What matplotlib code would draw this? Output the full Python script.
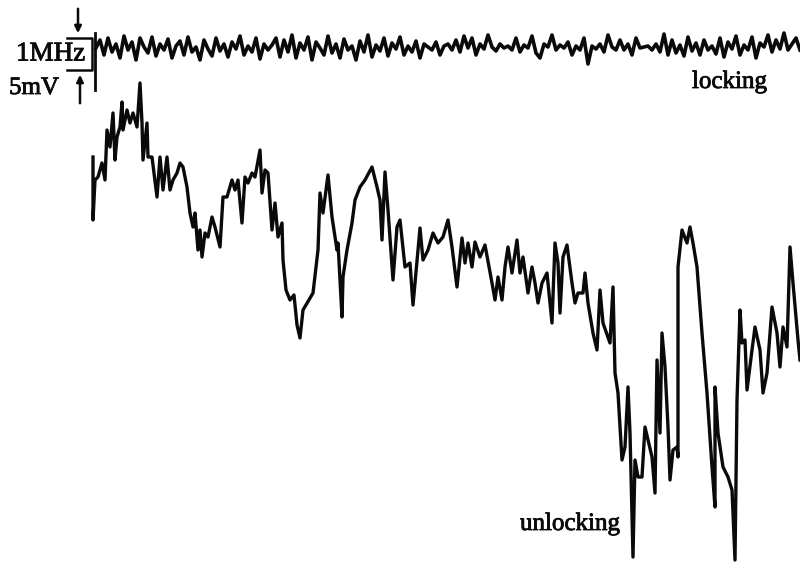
import numpy as np
import matplotlib.pyplot as plt
import matplotlib.patheffects as pe

# upper trace (frequency error while locked), read every ~4 px from the chart
upper_v = [48, 40, 55, 38, 52, 44, 58, 36, 50, 42, 60, 38, 47, 53, 37, 56, 44, 50, 39, 58, 46, 41,
           55, 37, 52, 47, 60, 40, 49, 56, 38, 51, 44, 57, 42, 49, 36, 55, 46, 52, 38, 59, 44, 50,
           45, 38, 57, 40, 52, 35, 58, 43, 50, 37, 60, 42, 48, 55, 36, 53, 44, 58, 39, 50, 46, 60,
           41, 52, 35, 57, 45, 51, 38, 56, 43, 49, 37, 55, 46, 52, 41, 58, 44, 47, 50, 42, 55, 46,
           44, 50, 40, 52, 36, 48, 38, 55, 44, 49, 35, 47, 51, 44, 48, 46, 50, 38, 52, 45, 48, 36,
           53, 58, 44, 47, 35, 50, 45, 48, 42, 55, 46, 50, 38, 64, 46, 49, 44, 52, 35, 47, 50,
           40, 50, 44, 55, 38, 48, 47, 46, 50, 44, 52, 34, 55, 40, 53, 45, 56, 37, 51, 43, 55, 40,
           50, 46, 54, 38, 57, 42, 49, 36, 55, 45, 50, 37, 58, 43, 47, 35, 52, 40, 49, 33, 50, 44,
           38, 50]
upper_t = np.linspace(96, 800, len(upper_v))

# lower trace (unlocking), irregular samples
lower_t = [93, 93, 95, 98, 102, 105, 107, 110, 113, 115, 117, 120, 122, 123, 127, 130, 133, 137,
           140, 142, 143, 147, 148, 152, 157, 160, 163, 167, 170, 173, 177, 180, 183, 187, 190,
           193, 195, 198, 200, 202, 205, 208, 212, 215, 220, 223, 227, 232, 235, 238, 242, 245,
           248, 252, 255, 260, 262, 265, 268, 272, 275, 278, 282, 283, 286, 290, 294, 297, 300,
           303, 313, 318, 320, 323, 328, 332, 337, 338, 342, 343, 347, 352, 355, 360, 365, 372,
           377, 380, 382, 385, 388, 393, 397, 400, 405, 410, 413, 420, 423, 428, 433, 438, 443,
           448, 452, 457, 462, 465, 468, 472, 475, 480, 485, 492, 495, 498, 502, 505, 508, 512,
           517, 520, 523, 528, 532, 535, 538, 542, 547, 552, 555, 558, 560, 563, 567, 572, 575,
           578, 583, 585, 588, 593, 597, 600, 603, 610, 613, 615, 618, 622, 625, 628, 630, 633,
           635, 638, 642, 645, 648, 652, 655, 657, 660, 662, 665, 668, 670, 673, 677, 678, 678,
           682, 687, 690, 693, 697, 702, 707, 712, 715, 715, 718, 723, 728, 732, 735, 737, 740,
           742, 745, 747, 752, 755, 760, 763, 767, 772, 777, 780, 783, 787, 790, 793, 798, 800]
lower_v = [157, 220, 180, 177, 163, 180, 130, 147, 113, 160, 137, 127, 102, 130, 110, 123, 113, 127,
           83, 123, 160, 123, 157, 157, 197, 157, 190, 157, 190, 180, 173, 163, 167, 187, 213,
           227, 213, 250, 230, 257, 233, 237, 217, 227, 247, 197, 197, 180, 190, 180, 223, 177,
           183, 173, 177, 150, 193, 170, 173, 230, 203, 237, 223, 260, 290, 300, 295, 325, 338,
           310, 293, 250, 193, 213, 175, 217, 250, 243, 317, 277, 250, 223, 200, 187, 180, 167,
           187, 200, 240, 172, 210, 280, 227, 220, 267, 263, 305, 228, 260, 250, 233, 243, 237,
           220, 247, 287, 238, 263, 243, 267, 242, 257, 245, 283, 300, 277, 300, 267, 247, 273,
           240, 273, 257, 293, 267, 283, 303, 283, 273, 323, 243, 263, 313, 257, 245, 283, 303,
           293, 293, 273, 303, 333, 350, 290, 323, 343, 287, 373, 393, 460, 447, 387, 433, 557,
           460, 477, 477, 427, 440, 457, 493, 360, 433, 333, 367, 427, 480, 450, 447, 457, 267,
           230, 243, 227, 243, 267, 333, 393, 467, 507, 387, 433, 467, 477, 490, 560, 400, 310,
           343, 340, 390, 350, 327, 350, 393, 373, 307, 333, 367, 327, 347, 247, 283, 340, 360]

fig = plt.figure(figsize=(8, 5.66), dpi=100)
ax = fig.add_axes([0, 0, 1, 1])
ax.set_xlim(0, 800)
ax.set_ylim(566, 0)
ax.axis('off')

ink = '#0a0a0a'
ax.plot(upper_t, upper_v, color=ink, linewidth=2.6, solid_joinstyle='round')
ax.plot(lower_t, lower_v, color=ink, linewidth=2.4, solid_joinstyle='round')

# calibration bracket
ax.plot([67, 92, 92, 67], [38, 38, 70, 70], color=ink, linewidth=1.8)
ax.plot([95, 95], [33, 90], color=ink, linewidth=2.0)
ax.annotate('', xy=(78, 36), xytext=(78, 6),
            arrowprops=dict(arrowstyle='-|>', color=ink, lw=1.8, mutation_scale=10))
ax.annotate('', xy=(80, 72), xytext=(80, 106),
            arrowprops=dict(arrowstyle='-|>', color=ink, lw=1.8, mutation_scale=10))

font = {'family': 'Liberation Serif', 'color': ink, 'size': 18}
bold = [pe.withStroke(linewidth=0.6, foreground=ink)]
ax.text(16, 54, '1MHz', fontdict=dict(font, size=19.5), va='center', ha='left', path_effects=bold)
ax.text(9, 88, '5mV', fontdict=font, va='center', ha='left', path_effects=bold)
ax.text(692, 82, 'locking', fontdict=font, va='center', ha='left', path_effects=bold)
ax.text(520, 524, 'unlocking', fontdict=font, va='center', ha='left', path_effects=bold)

fig.savefig('out.png', dpi=100)
